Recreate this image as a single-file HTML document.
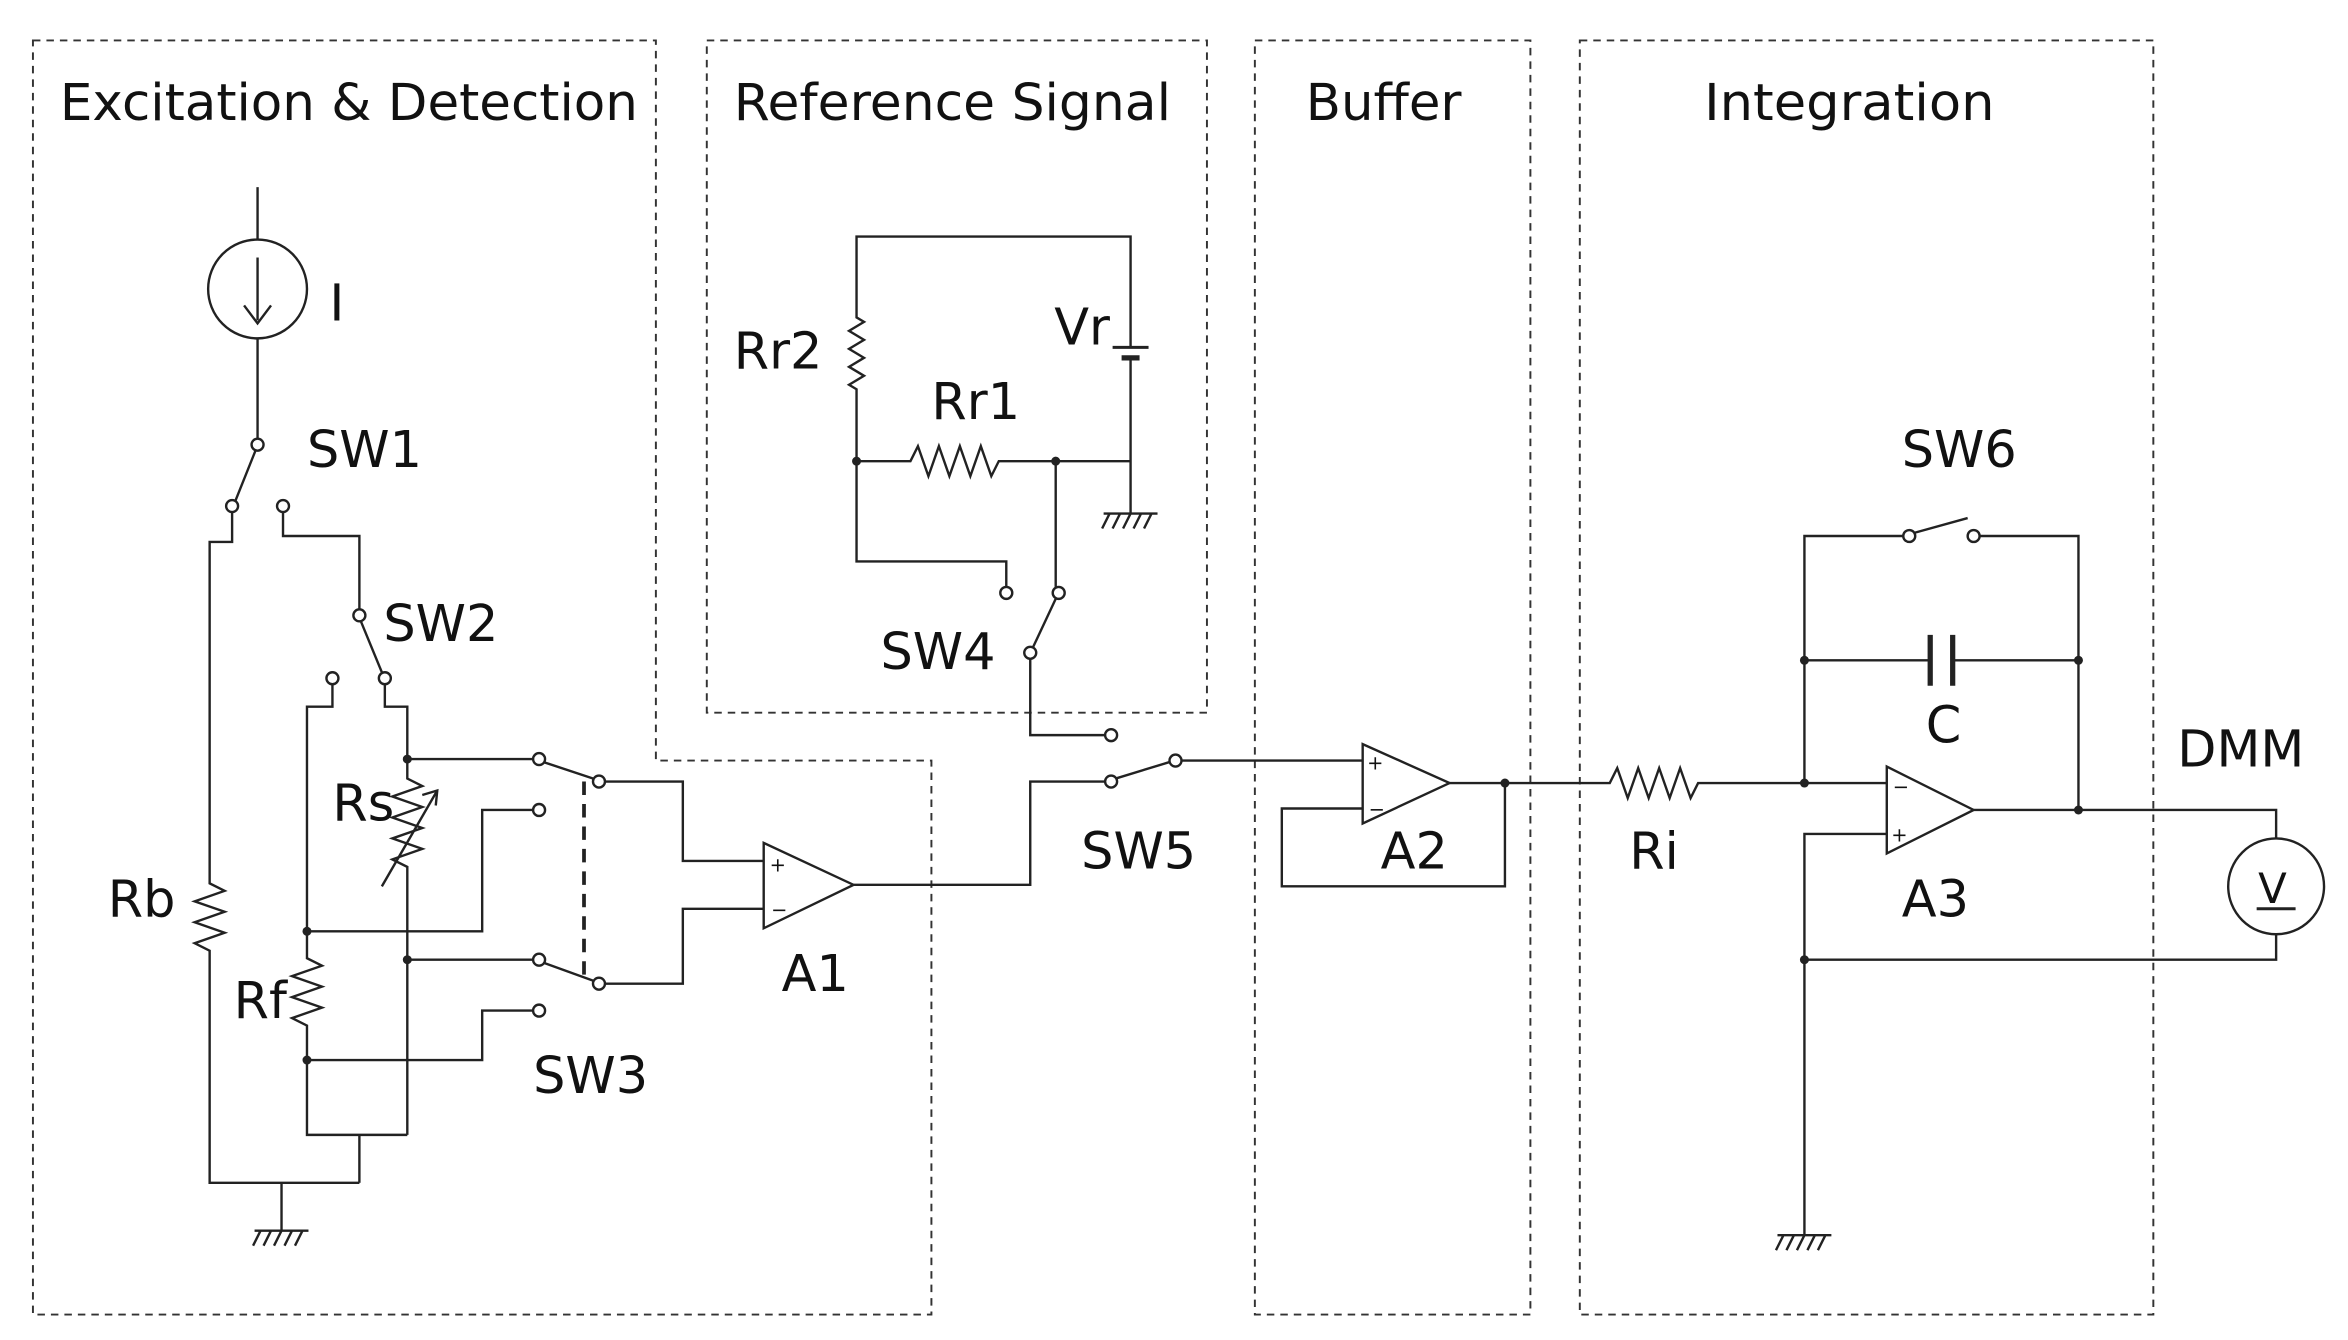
<!DOCTYPE html>
<html><head><meta charset="utf-8"><style>
html,body{margin:0;padding:0;background:#fff;}
svg{display:block;}
text{font-family:"DejaVu Sans","Liberation Sans",sans-serif;fill:#111;}
</style></head><body>
<svg width="2348" height="1340" viewBox="0 0 1568 895" preserveAspectRatio="none" xmlns="http://www.w3.org/2000/svg">
<g fill="none" stroke="#333" stroke-width="1.3" stroke-dasharray="5,4">
<path d="M22,27 H438 V508 H622 V878 H22 Z"/>
<rect x="472" y="27" width="334" height="449"/>
<rect x="838" y="27" width="184" height="851"/>
<rect x="1055" y="27" width="383" height="851"/>
</g>
<g font-size="34">
<text x="40" y="80" textLength="386" lengthAdjust="spacingAndGlyphs">Excitation &amp; Detection</text>
<text x="490" y="80" textLength="292" lengthAdjust="spacingAndGlyphs">Reference Signal</text>
<text x="872" y="80" textLength="104" lengthAdjust="spacingAndGlyphs">Buffer</text>
<text x="1138" y="80" textLength="194" lengthAdjust="spacingAndGlyphs">Integration</text>
<text x="220" y="214">I</text>
<text x="205" y="312">SW1</text>
<text x="256" y="428">SW2</text>
<text x="222" y="548">Rs</text>
<text x="72" y="612">Rb</text>
<text x="156" y="680">Rf</text>
<text x="356" y="730">SW3</text>
<text x="522" y="662">A1</text>
<text x="490" y="246">Rr2</text>
<text x="622" y="280">Rr1</text>
<text x="704" y="230">Vr</text>
<text x="588" y="447">SW4</text>
<text x="722" y="580">SW5</text>
<text x="922" y="580">A2</text>
<text x="1088" y="580">Ri</text>
<text x="1270" y="312">SW6</text>
<text x="1286" y="496">C</text>
<text x="1270" y="612">A3</text>
<text x="1454" y="512">DMM</text>
</g>
<g fill="none" stroke="#222" stroke-width="1.6">
<!-- current source -->
<line x1="172" y1="125" x2="172" y2="160"/>
<circle cx="172" cy="193" r="33"/>
<line x1="172" y1="172" x2="172" y2="214"/>
<path d="M163,204 L172,216 L181,204"/>
<line x1="172" y1="226" x2="172" y2="293"/>
<!-- SW1 -->
<line x1="171" y1="300" x2="157" y2="335"/>
<path d="M155,342 V362 H140 V590 l10,5 -20,7 20,7 -20,7 20,7 -20,7 10,5 V790 H240"/>
<path d="M189,342 V358 H240 V407"/>
<!-- SW2 -->
<line x1="241" y1="415" x2="255" y2="449"/>
<path d="M222,457 V472 H205 V640 l10,5 -20,7 20,7 -20,7 20,7 -20,7 10,5 V758 H272"/>
<path d="M257,457 V472 H272 V520 l10,5 -20,7 20,7 -20,7 20,7 -20,7 20,7 -20,7 10,5 V758"/>
<path d="M255,592 L292,528"/>
<path d="M282,531 L292,528 L291,538"/>
<line x1="240" y1="758" x2="240" y2="790"/>
<line x1="188" y1="790" x2="188" y2="822"/>
<!-- SW3 -->
<path d="M272,507 H356"/>
<line x1="363" y1="509" x2="396" y2="520"/>
<path d="M356,541 H322 V622 H205"/>
<path d="M272,641 H356"/>
<line x1="363" y1="643" x2="396" y2="655"/>
<path d="M356,675 H322 V708 H205"/>
<path d="M404,522 H456 V575 H510"/>
<path d="M404,657 H456 V607 H510"/>
<!-- A1 -->
<path d="M510,563 L510,620 L570,591 Z"/>
<path d="M570,591 H688 V522 H738"/>
<!-- SW5 -->
<line x1="745" y1="520" x2="781" y2="509"/>
<path d="M789,508 H910"/>
<path d="M738,491 H688 V440"/>
<!-- SW4 -->
<line x1="690" y1="432" x2="705" y2="400"/>
<!-- reference -->
<path d="M705,392 V308"/>
<path d="M672,392 V375 H572 V308"/>
<path d="M572,308 H608 l5,-10 7,20 7,-20 7,20 7,-20 7,20 7,-20 7,20 5,-10 H755"/>
<path d="M572,308 V260 l-5,-3 10,-6 -10,-6 10,-6 -10,-6 10,-6 -10,-6 10,-6 -5,-3 V158 H755 V232"/>
<path d="M755,240 V343"/>
<!-- A2 -->
<path d="M910,497 L910,550 L968,523 Z"/>
<path d="M910,540 H856 V592 H1005 V523"/>
<path d="M968,523 H1075 l5,-10 7,20 7,-20 7,20 7,-20 7,20 7,-20 7,20 5,-10 H1260"/>
<!-- A3 -->
<path d="M1260,512 L1260,570 L1318,541 Z"/>
<path d="M1318,541 H1520 V560"/>
<circle cx="1520" cy="592" r="32"/>
<path d="M1520,624 V641 H1205"/>
<path d="M1260,557 H1205 V825"/>
<path d="M1205,523 V358 H1271"/>
<line x1="1278" y1="356" x2="1314" y2="346"/>
<path d="M1322,358 H1388 V541"/>
<path d="M1205,441 H1288 M1305,441 H1388"/>
</g>
<!-- thick plates -->
<g stroke="#222" stroke-width="3.5">
<line x1="1289" y1="424" x2="1289" y2="458"/>
<line x1="1304" y1="424" x2="1304" y2="458"/>
<line x1="743" y1="232" x2="767" y2="232" stroke-width="2"/>
<line x1="749" y1="239" x2="761" y2="239"/>
</g>
<!-- dashed gang -->
<line x1="390" y1="522" x2="390" y2="657" stroke="#222" stroke-width="2.5" stroke-dasharray="9,6"/>
<!-- grounds -->
<g stroke="#222" stroke-width="1.6" fill="none">
<path d="M170,822 H206 M174,822 l-5,10 M181,822 l-5,10 M188,822 l-5,10 M195,822 l-5,10 M202,822 l-5,10"/>
<path d="M737,343 H773 M741,343 l-5,10 M748,343 l-5,10 M755,343 l-5,10 M762,343 l-5,10 M769,343 l-5,10"/>
<path d="M1187,825 H1223 M1191,825 l-5,10 M1198,825 l-5,10 M1205,825 l-5,10 M1212,825 l-5,10 M1219,825 l-5,10"/>
</g>
<!-- switch contacts -->
<g fill="#fff" stroke="#222" stroke-width="1.6">
<circle cx="172" cy="297" r="4"/><circle cx="155" cy="338" r="4"/><circle cx="189" cy="338" r="4"/>
<circle cx="240" cy="411" r="4"/><circle cx="222" cy="453" r="4"/><circle cx="257" cy="453" r="4"/>
<circle cx="360" cy="507" r="4"/><circle cx="400" cy="522" r="4"/><circle cx="360" cy="541" r="4"/>
<circle cx="360" cy="641" r="4"/><circle cx="400" cy="657" r="4"/><circle cx="360" cy="675" r="4"/>
<circle cx="742" cy="522" r="4"/><circle cx="785" cy="508" r="4"/><circle cx="742" cy="491" r="4"/>
<circle cx="688" cy="436" r="4"/><circle cx="672" cy="396" r="4"/><circle cx="707" cy="396" r="4"/>
<circle cx="1275" cy="358" r="4"/><circle cx="1318" cy="358" r="4"/>
</g>
<!-- nodes -->
<g fill="#222">
<circle cx="272" cy="507" r="3"/><circle cx="205" cy="622" r="3"/><circle cx="272" cy="641" r="3"/><circle cx="205" cy="708" r="3"/>
<circle cx="572" cy="308" r="3"/><circle cx="705" cy="308" r="3"/>
<circle cx="1005" cy="523" r="3"/><circle cx="1205" cy="523" r="3"/><circle cx="1205" cy="441" r="3"/><circle cx="1388" cy="441" r="3"/>
<circle cx="1388" cy="541" r="3"/><circle cx="1205" cy="641" r="3"/>
</g>
<!-- opamp signs -->
<g font-size="13">
<text x="514" y="582">+</text><text x="515" y="612">−</text>
<text x="913" y="514">+</text><text x="914" y="545">−</text>
<text x="1264" y="530">−</text><text x="1263" y="562">+</text>
</g>
<text x="1508" y="603" font-size="28">V</text>
<line x1="1507" y1="607" x2="1533" y2="607" stroke="#222" stroke-width="2"/>
</svg>
</body></html>
